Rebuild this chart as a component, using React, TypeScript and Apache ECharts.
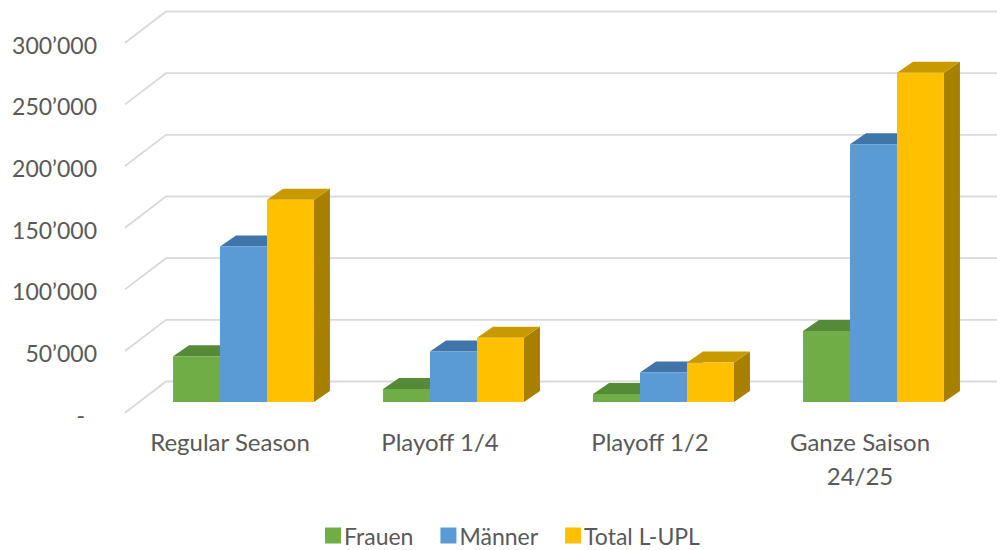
import React, { useEffect, useRef } from "react";
import * as echarts from "echarts";

const categories = ["Regular Season", "Playoff 1/4", "Playoff 1/2", "Ganze Saison\n24/25"];
const seriesNames = ["Frauen", "Männer", "Total L-UPL"];
const frauen = [37000, 10500, 6500, 57500];
const maenner = [126000, 41000, 24000, 209000];
const total = [164000, 52000, 32000, 267000];
const yTicks = [0, 50000, 100000, 150000, 200000, 250000, 300000];

const frontColors = ["#70AD47", "#5B9BD5", "#FFC000"];
const topColors = ["#558A37", "#3F75A8", "#C99A00"];
const sideColors = ["#4A7A30", "#36669A", "#A88000"];

const DEPTH_X = 16;
const DEPTH_Y = -11;
const GROUP_RATIO = 0.671;
// offsets of the back wall and the front floor edge relative to the bar plane
const BACK_DX = 27.5;
const BACK_DY = -20.5;
const FRONT_DX = -13.5;
const FRONT_DY = 10.7;

function fmt(v: number): string {
  if (v === 0) return "{d|-}";
  const s = String(v);
  return s.replace(/\B(?=(\d{3})+(?!\d))/g, "\u2019");
}

export default function App() {
  const ref = useRef<HTMLDivElement>(null);
  useEffect(() => {
    if (!ref.current) return;
    document.body.style.margin = "0";
    const chart = echarts.init(ref.current, undefined, { renderer: "svg" });
    const dataSets = [frauen, maenner, total];

    const barSeries = dataSets.map((arr, sIdx) => ({
      type: "custom",
      name: seriesNames[sIdx],
      xAxisIndex: 0,
      yAxisIndex: 0,
      z: 10,
      itemStyle: { color: frontColors[sIdx] },
      data: arr.map((v, i) => [i, v]),
      renderItem: (params: any, api: any) => {
        const cat = api.value(0);
        const v = api.value(1);
        const base = api.coord([cat, 0]);
        const top = api.coord([cat, v]);
        const band = api.size([1, 0])[0];
        const groupW = band * GROUP_RATIO;
        const w = groupW / 3;
        const x0 = base[0] - groupW / 2 + sIdx * w;
        const yT = top[1];
        const yB = base[1];
        return {
          type: "group",
          children: [
            {
              type: "polygon",
              shape: {
                points: [
                  [x0 + w, yT],
                  [x0 + w + DEPTH_X, yT + DEPTH_Y],
                  [x0 + w + DEPTH_X, yB + DEPTH_Y],
                  [x0 + w, yB],
                ],
              },
              style: { fill: sideColors[sIdx], stroke: "none" },
            },
            {
              type: "polygon",
              shape: {
                points: [
                  [x0, yT],
                  [x0 + DEPTH_X, yT + DEPTH_Y],
                  [x0 + w + DEPTH_X, yT + DEPTH_Y],
                  [x0 + w, yT],
                ],
              },
              style: { fill: topColors[sIdx], stroke: "none" },
            },
            {
              type: "rect",
              shape: { x: x0, y: yT, width: w, height: yB - yT },
              style: { fill: frontColors[sIdx], stroke: "none" },
            },
          ],
        };
      },
    }));

    const gridSeries = {
      type: "custom",
      name: "grid",
      xAxisIndex: 0,
      yAxisIndex: 0,
      z: 1,
      silent: true,
      legendHoverLink: false,
      data: yTicks.map((t) => [0, t]),
      renderItem: (params: any, api: any) => {
        const p = api.coord([0, api.value(1)]);
        const left = params.coordSys.x;
        const y = p[1];
        return {
          type: "polyline",
          shape: {
            points: [
              [left + FRONT_DX, y + FRONT_DY],
              [left + BACK_DX, y + BACK_DY],
              [997, y + BACK_DY],
            ],
          },
          style: { stroke: "#D9D9D9", lineWidth: 1.8, fill: "none" },
        };
      },
    };

    const font = "Lato, 'Open Sans', sans-serif";

    chart.setOption({
      animation: false,
      backgroundColor: "#ffffff",
      textStyle: { fontFamily: font },
      grid: [
        { left: 138.5, right: 18.5, top: 32, bottom: 148 },
        { left: 125, right: 32, top: 44.7, bottom: 135.3 },
      ],
      xAxis: [
        {
          type: "category",
          gridIndex: 0,
          data: categories,
          show: false,
        },
        {
          type: "category",
          gridIndex: 1,
          data: categories,
          axisLine: { show: false },
          axisTick: { show: false },
          splitLine: { show: false },
          axisLabel: {
            color: "#595959",
            fontSize: 24,
            fontFamily: font,
            margin: 10,
            lineHeight: 34,
            interval: 0,
          },
        },
      ],
      yAxis: [
        {
          type: "value",
          gridIndex: 0,
          min: 0,
          max: 300000,
          interval: 50000,
          show: false,
          splitLine: { show: false },
        },
        {
          type: "value",
          gridIndex: 1,
          min: 0,
          max: 300000,
          interval: 50000,
          axisLine: { show: false },
          axisTick: { show: false },
          splitLine: { show: false },
          axisLabel: {
            color: "#595959",
            fontSize: 23,
            fontFamily: font,
            margin: 28,
            formatter: (v: number) => fmt(v),
            rich: {
              d: { color: "#595959", fontSize: 23, fontFamily: font, padding: [0, 12, 0, 0] },
            },
          },
        },
      ],
      legend: {
        data: seriesNames,
        top: 524,
        padding: 0,
        left: 325,
        icon: "rect",
        itemWidth: 16,
        itemHeight: 16,
        itemGap: 27,
        textStyle: { color: "#595959", fontSize: 23, fontFamily: font, padding: [0, 0, 0, -2] },
      },
      series: [gridSeries, ...barSeries],
    });
    return () => chart.dispose();
  }, []);
  return <div ref={ref} style={{ width: 997, height: 550 }} />;
}
